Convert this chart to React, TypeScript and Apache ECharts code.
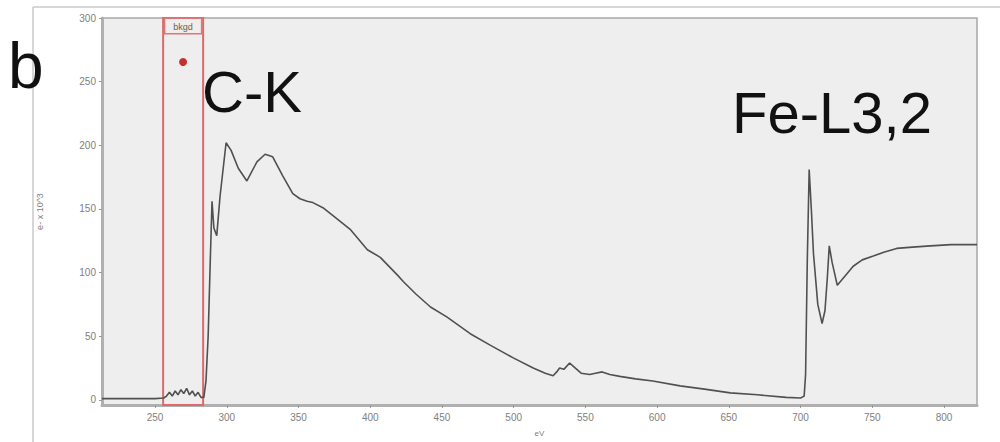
import React, { useEffect, useRef } from "react";
import * as echarts from "echarts";

const energy = [213, 230, 250, 256, 258, 260, 262, 264, 266, 268, 270, 272, 274, 276, 278, 280, 282, 284, 285.5, 287, 288.5, 289.7, 291, 293, 295.3, 297.4, 299.5, 303, 308, 314, 321, 326.7, 332, 339, 346, 351, 356, 360, 367, 376, 386, 398, 407, 419, 423, 432, 442, 453.6, 469.7, 483.6, 499.7, 513.6, 522, 527.5, 530, 532, 535, 539, 542, 547, 553, 557, 561.7, 567, 574, 585, 597, 616, 633, 651, 670, 690, 700, 702.5, 703.5, 704.7, 706, 707.5, 709, 712, 715, 717, 718.6, 720, 722, 725.6, 730, 736.7, 743, 750.7, 758, 767, 778, 790.5, 805, 823];
const counts = [1, 1, 1, 1.5, 3, 6, 3, 7, 4, 8, 5, 9, 4, 7, 3, 6, 2, 2, 15, 50, 110, 156, 135, 129, 160, 181, 202, 196, 182, 172, 187, 193, 191, 176, 162, 158, 156, 155, 151, 143, 134, 118, 112, 98, 93, 83, 73, 65, 52, 43, 33, 25, 21, 19, 22, 25, 24, 29, 26, 21, 20, 21, 22, 20, 18.5, 16.5, 14.8, 11, 8.5, 5.5, 4, 2, 1.5, 3, 20, 110, 181, 150, 115, 75, 60, 70, 95, 121, 108, 90, 96, 105, 110, 113, 116, 119, 120, 121, 122, 122];

const xTicks = [250, 300, 350, 400, 450, 500, 550, 600, 650, 700, 750, 800];
const yTicks = [0, 50, 100, 150, 200, 250, 300];
const bkgdWindow = [255.6, 283.5];
const markerPoint = [[269.5, 265.5]];

export default function App() {
  const ref = useRef<HTMLDivElement>(null);
  useEffect(() => {
    document.body.style.margin = "0";
    const chart = echarts.init(ref.current!, null, { renderer: "svg" });
    const line = energy.map((e, i) => [e, counts[i]]);
    chart.setOption({
      animation: false,
      backgroundColor: "#ffffff",
      grid: {
        left: 102,
        right: 23,
        top: 18,
        bottom: 35,
        show: true,
        backgroundColor: "#eeeeee",
        borderColor: "#a8a8a8",
        borderWidth: 1.5,
      },
      xAxis: {
        type: "value",
        min: 213,
        max: 823,
        name: "eV",
        nameLocation: "middle",
        nameGap: 24,
        nameTextStyle: { fontSize: 8, color: "#808080", fontFamily: "Liberation Sans" },
        splitLine: { show: false },
        axisLine: { onZero: false, lineStyle: { color: "#b0b0b0", width: 3 } },
        axisTick: { show: true, customValues: xTicks, length: 3, lineStyle: { color: "#999" } },
        axisLabel: { customValues: xTicks, fontSize: 10, color: "#808080", margin: 7, fontFamily: "Liberation Sans" },
      },
      yAxis: {
        type: "value",
        min: -4,
        max: 300,
        name: "e- x 10^3",
        nameLocation: "middle",
        nameGap: 58,
        nameTextStyle: { fontSize: 9, color: "#808080", fontFamily: "Liberation Sans" },
        splitLine: { show: false },
        axisLine: { show: true, onZero: false, lineStyle: { color: "#b0b0b0", width: 3 } },
        axisTick: { show: true, customValues: yTicks, length: 3, lineStyle: { color: "#999" } },
        axisLabel: { customValues: yTicks, fontSize: 10, color: "#808080", margin: 6, fontFamily: "Liberation Sans" },
      },
      series: [
        {
          type: "line",
          data: line,
          showSymbol: false,
          lineStyle: { color: "#505050", width: 1.6 },
          markArea: {
            silent: true,
            itemStyle: { color: "rgba(0,0,0,0)", borderColor: "#dd6a6a", borderWidth: 2 },
            label: {
              show: true,
              position: "insideTop",
              distance: 2,
              formatter: "bkgd",
              fontSize: 9,
              color: "#5c6650",
              backgroundColor: "#f2ecec",
              borderColor: "#dd7777",
              borderWidth: 1.5,
              padding: [3, 8, 2, 8],
              fontFamily: "Liberation Sans",
            },
            data: [[{ xAxis: bkgdWindow[0], yAxis: -4 }, { xAxis: bkgdWindow[1], yAxis: 300 }]],
          },
        },
        {
          type: "scatter",
          data: markerPoint,
          symbolSize: 8,
          itemStyle: { color: "#b80000" },
        },
      ],
      graphic: [
        { type: "line", shape: { x1: 33, y1: 7, x2: 1000, y2: 7 }, style: { stroke: "#c8c8c8", lineWidth: 1.5 } },
        { type: "line", shape: { x1: 33, y1: 7, x2: 33, y2: 442 }, style: { stroke: "#c8c8c8", lineWidth: 1.5 } },
        { type: "text", x: 8, y: 66, style: { text: "b", font: "64px 'Liberation Sans'", fill: "#111", verticalAlign: "middle" } },
        { type: "text", x: 202, y: 91, style: { text: "C-K", font: "58px 'Liberation Sans'", fill: "#111", verticalAlign: "middle" } },
        { type: "text", x: 732, y: 112, style: { text: "Fe-L3,2", font: "58px 'Liberation Sans'", fill: "#111", verticalAlign: "middle" } },
      ],
    });
    return () => chart.dispose();
  }, []);
  return <div ref={ref} style={{ width: 1000, height: 442 }} />;
}
